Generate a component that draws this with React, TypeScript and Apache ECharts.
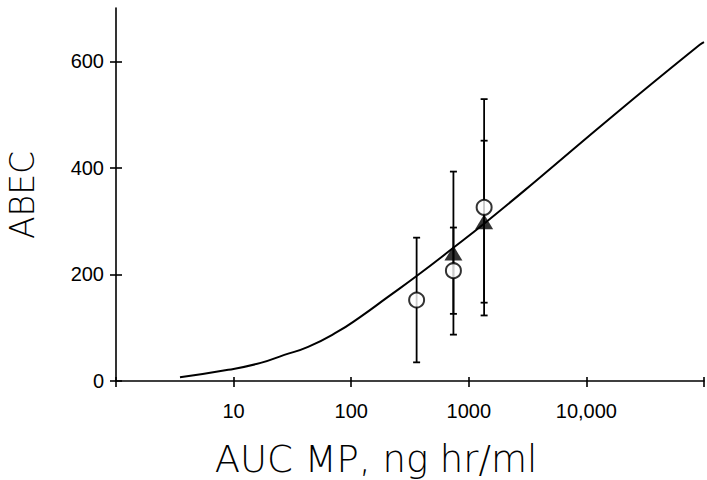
import React, { useEffect, useRef } from "react";
import * as echarts from "echarts";

// Fitted curve (AUC, ABEC)
const curveX = [3.5, 9, 17, 27, 43, 76, 119, 200, 360, 730, 1380, 3650, 18000, 92000, 100000];
const curveY = [7, 21, 34, 49, 64, 92, 120, 156, 197, 249, 297, 374, 503, 631, 636];

// Open circles (mean, ± error)
const circleX = [360, 740, 1350];
const circleY = [152, 207, 326];
const circleErr = [117, 81, 203];

// Filled triangles (mean, ± error)
const triX = [740, 1350];
const triY = [240, 299];
const triErr = [153, 152];

// Axis ticks
const yTicks = [0, 200, 400, 600];
const xLabels: Record<number, string> = { 10: "10", 100: "100", 1000: "1000", 10000: "10,000" };

const TXT_FONT = "'Liberation Sans', Arial, sans-serif";
const TITLE_FONT = "'DejaVu Sans', sans-serif";

export default function App() {
  const ref = useRef<HTMLDivElement>(null);
  useEffect(() => {
    if (!ref.current) return;
    const chart = echarts.init(ref.current, undefined, { renderer: "svg" });

    const errData = [
      ...circleX.map((x, i) => [x, circleY[i] - circleErr[i], circleY[i] + circleErr[i]]),
      ...triX.map((x, i) => [x, triY[i] - triErr[i], triY[i] + triErr[i]]),
    ];

    const renderErr = (params: any, api: any) => {
      const x = api.value(0);
      const lo = api.coord([x, api.value(1)]);
      const hi = api.coord([x, api.value(2)]);
      const cap = 3.5;
      const style = { stroke: "#000", lineWidth: 1.8 };
      return {
        type: "group",
        children: [
          { type: "line", shape: { x1: lo[0], y1: lo[1], x2: hi[0], y2: hi[1] }, style },
          { type: "line", shape: { x1: lo[0] - cap, y1: lo[1], x2: lo[0] + cap, y2: lo[1] }, style },
          { type: "line", shape: { x1: hi[0] - cap, y1: hi[1], x2: hi[0] + cap, y2: hi[1] }, style },
        ],
      };
    };

    const xBase = {
      type: "log",
      logBase: 10,
      min: 1,
      max: 100000,
      gridIndex: 0,
      position: "bottom",
      splitLine: { show: false },
      minorTick: { show: false },
    };
    const yBase = {
      type: "value",
      min: 0,
      max: 700,
      gridIndex: 0,
      position: "left",
      splitLine: { show: false },
    };

    chart.setOption({
      animation: false,
      backgroundColor: "#fff",
      grid: { left: 116, width: 595, top: 8, height: 373, containLabel: false },
      xAxis: [
        {
          ...xBase,
          axisLine: { show: true, onZero: false, lineStyle: { color: "#000", width: 1.6 } },
          axisTick: { show: true, inside: false, length: 6, lineStyle: { color: "#000", width: 1.6 } },
          axisLabel: {
            show: true,
            margin: 20,
            color: "#000",
            fontSize: 20,
            fontFamily: TXT_FONT,
            formatter: (v: number) => xLabels[Math.round(v)] ?? "",
            showMinLabel: true,
            showMaxLabel: true,
          },
        },
        {
          ...xBase,
          axisLine: { show: false },
          axisTick: { show: true, inside: true, length: 4, lineStyle: { color: "#000", width: 1.6 } },
          axisLabel: { show: false },
        },
      ],
      yAxis: [
        {
          ...yBase,
          axisLine: { show: true, onZero: false, lineStyle: { color: "#000", width: 1.6 } },
          axisTick: {
            show: true,
            inside: false,
            length: 6,
            customValues: yTicks,
            lineStyle: { color: "#000", width: 1.6 },
          },
          axisLabel: {
            show: true,
            margin: 12,
            color: "#000",
            fontSize: 20,
            fontFamily: TXT_FONT,
            customValues: yTicks,
          },
        },
        {
          ...yBase,
          axisLine: { show: false },
          axisTick: {
            show: true,
            inside: true,
            length: 6,
            customValues: yTicks,
            lineStyle: { color: "#000", width: 1.6 },
          },
          axisLabel: { show: false },
        },
      ],
      graphic: [
        {
          type: "text",
          x: 22,
          y: 195,
          rotation: Math.PI / 2,
          style: {
            text: "ABEC",
            fontFamily: TITLE_FONT,
            fontSize: 33,
            fontWeight: 200,
            fill: "#000",
            align: "center",
            verticalAlign: "middle",
          },
        },
        {
          type: "text",
          x: 376,
          y: 459,
          style: {
            text: "AUC MP, ng hr/ml",
            fontFamily: TITLE_FONT,
            fontSize: 37,
            fontWeight: 200,
            fill: "#000",
            align: "center",
            verticalAlign: "middle",
          },
        },
      ],
      series: [
        {
          type: "line",
          xAxisIndex: 0,
          yAxisIndex: 0,
          data: curveX.map((x, i) => [x, curveY[i]]),
          smooth: 0.5,
          showSymbol: false,
          lineStyle: { color: "#000", width: 2 },
          z: 2,
        },
        {
          type: "custom",
          xAxisIndex: 0,
          yAxisIndex: 0,
          data: errData,
          renderItem: renderErr,
          encode: { x: 0, y: [1, 2] },
          z: 3,
        },
        {
          type: "scatter",
          xAxisIndex: 0,
          yAxisIndex: 0,
          data: triX.map((x, i) => [x, triY[i]]),
          symbol: "triangle",
          symbolSize: [18, 15],
          itemStyle: { color: "#000" },
          z: 4,
        },
        {
          type: "scatter",
          xAxisIndex: 0,
          yAxisIndex: 0,
          data: circleX.map((x, i) => [x, circleY[i]]),
          symbol: "circle",
          symbolSize: 15,
          itemStyle: { color: "#fff", borderColor: "#000", borderWidth: 2 },
          z: 5,
        },
      ],
    });
    return () => chart.dispose();
  }, []);

  return <div ref={ref} style={{ width: 707, height: 480, position: "absolute", left: 0, top: 0 }} />;
}
